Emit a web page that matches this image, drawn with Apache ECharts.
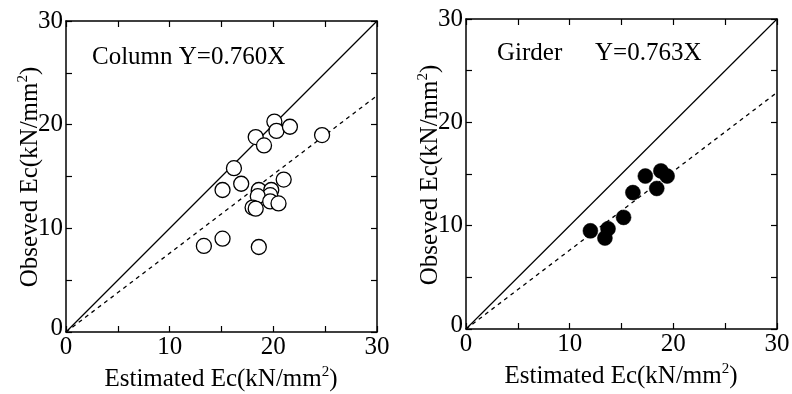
<!DOCTYPE html>
<html>
<head>
<meta charset="utf-8">
<script src="https://cdn.jsdelivr.net/npm/echarts@6/dist/echarts.min.js"></script>
<style>
  html, body { margin: 0; padding: 0; background: #fff; }
  #chart { width: 792px; height: 394px; }
</style>
</head>
<body>
<div id="chart"></div>
<script>
// Column specimens: estimated vs observed elastic modulus (kN/mm2)
const columnEstimated = [20.1, 20.3, 21.6, 18.3, 19.1, 24.7, 16.2, 16.9, 15.1, 21.0,
                         18.6, 19.8, 19.7, 18.5, 19.7, 20.5, 18.0, 18.3, 13.3, 15.1, 18.6];
const columnObserved  = [20.3, 19.4, 19.8, 18.8, 18.0, 19.0, 15.8, 14.3, 13.7, 14.7,
                         13.7, 13.7, 13.2, 13.1, 12.6, 12.4, 12.0, 11.9, 8.3, 9.0, 8.2];
// Girder specimens
const girderEstimated = [12.0, 13.7, 13.4, 15.2, 16.1, 17.3, 18.4, 18.8, 19.4];
const girderObserved  = [9.5, 9.7, 8.8, 10.8, 13.2, 14.8, 13.6, 15.3, 14.8];
// Regression slopes (Y = aX)
const columnSlope = 0.760;
const girderSlope = 0.763;
// Axis range and tick spacing
const axisMin = 0, axisMax = 30, tickStep = 5, labelStep = 10;
// Axis titles
const xTitle = 'Estimated Ec(kN/mm{sup|2})';
const yTitle = 'Obseved Ec(kN/mm{sup|2})';

const FONT = "'Liberation Serif', 'Times New Roman', serif";
const BLACK = '#000';

function pairs(xs, ys) { return xs.map((x, i) => [x, ys[i]]); }

function xLabel(v) { return v % labelStep === 0 ? String(v) : ''; }
function yLabel(v) {
  if (v === 0) return '{z|0}';
  return v % labelStep === 0 ? String(v) : '';
}

// superscript: small digit pinned to the top of a slightly taller line
const titleRich = {
  sup: { fontSize: 15, fontFamily: FONT, color: BLACK, verticalAlign: 'top', padding: [0, 0, 14, 0] }
};

function makeAxes(gridIndex) {
  const common = {
    gridIndex, type: 'value', min: axisMin, max: axisMax, interval: tickStep,
    splitLine: { show: false },
    axisLine: { show: true, onZero: false, lineStyle: { color: BLACK, width: 1.5 } },
    axisTick: { show: true, inside: true, length: 6, lineStyle: { color: BLACK, width: 1.2 } }
  };
  const xs = [
    Object.assign({}, common, {
      position: 'bottom',
      axisLabel: { formatter: xLabel, color: BLACK, fontFamily: FONT, fontSize: 25, margin: 3 }
    }),
    Object.assign({}, common, { position: 'top', axisLabel: { show: false } })
  ];
  const ys = [
    Object.assign({}, common, {
      position: 'left',
      axisLabel: { formatter: yLabel, color: BLACK, fontFamily: FONT, fontSize: 25, margin: 3,
                   rich: { z: { fontFamily: FONT, fontSize: 25, color: BLACK, padding: [0, 0, 8, 0] } } }
    }),
    Object.assign({}, common, { position: 'right', axisLabel: { show: false } })
  ];
  return { xs, ys };
}

const a0 = makeAxes(0), a1 = makeAxes(1);

function refLines(idx, slope) {
  return [
    { type: 'line', xAxisIndex: idx * 2, yAxisIndex: idx * 2, showSymbol: false, silent: true,
      data: [[axisMin, axisMin], [axisMax, axisMax]],
      lineStyle: { color: BLACK, width: 1.2 }, z: 2 },
    { type: 'line', xAxisIndex: idx * 2, yAxisIndex: idx * 2, showSymbol: false, silent: true,
      data: [[axisMin, axisMin * slope], [axisMax, axisMax * slope]],
      lineStyle: { color: BLACK, width: 1.3, type: [4, 4] }, z: 2 }
  ];
}

function titleText(text, x, y, rotation) {
  return { type: 'text', x, y, rotation, z: 10,
    style: { text, font: '25px ' + FONT, fill: BLACK, align: 'center', verticalAlign: 'middle',
             rich: titleRich } };
}

const option = {
  backgroundColor: '#fff',
  animation: false,
  grid: [
    { left: 66, top: 21, width: 311, height: 311, containLabel: false, outerBoundsMode: 'none' },
    { left: 466, top: 19, width: 311, height: 310, containLabel: false, outerBoundsMode: 'none' }
  ],
  xAxis: [...a0.xs, ...a1.xs],
  yAxis: [...a0.ys, ...a1.ys],
  series: [
    ...refLines(0, columnSlope),
    { type: 'scatter', xAxisIndex: 0, yAxisIndex: 0, data: pairs(columnEstimated, columnObserved),
      symbol: 'circle', symbolSize: 15,
      itemStyle: { color: '#fff', borderColor: BLACK, borderWidth: 1.3, opacity: 1 }, z: 3 },
    ...refLines(1, girderSlope),
    { type: 'scatter', xAxisIndex: 2, yAxisIndex: 2, data: pairs(girderEstimated, girderObserved),
      symbol: 'circle', symbolSize: 15,
      itemStyle: { color: BLACK, borderColor: BLACK, borderWidth: 0.5, opacity: 1 }, z: 3 }
  ],
  graphic: [
    titleText(yTitle, 30, 177, Math.PI / 2),
    titleText(yTitle, 430, 175, Math.PI / 2),
    titleText(xTitle, 221, 379, 0),
    titleText(xTitle, 621, 376, 0),
    { type: 'text', left: 92, top: 45, z: 10,
      style: { text: 'Column Y=' + columnSlope.toFixed(3) + 'X', font: '25px ' + FONT, fill: BLACK } },
    { type: 'text', left: 497, top: 41, z: 10,
      style: { text: 'Girder', font: '25px ' + FONT, fill: BLACK } },
    { type: 'text', left: 595, top: 41, z: 10,
      style: { text: 'Y=' + girderSlope.toFixed(3) + 'X', font: '25px ' + FONT, fill: BLACK } }
  ]
};

echarts.init(document.getElementById('chart'), null, { renderer: 'canvas' }).setOption(option);
</script>
</body>
</html>
